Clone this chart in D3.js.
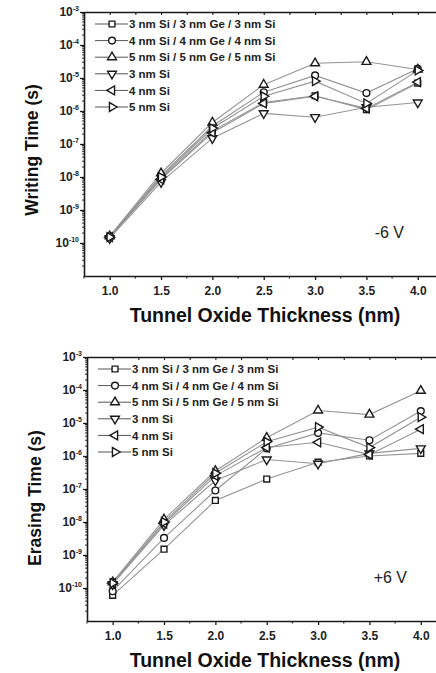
<!DOCTYPE html>
<html><head><meta charset="utf-8">
<script src="https://cdn.jsdelivr.net/npm/d3@7/dist/d3.min.js"></script>
<style>body{margin:0;background:#fff}svg{display:block}</style>
</head><body>
<svg id="c" width="436" height="673"></svg>
<script>
const thickness = [1.0, 1.5, 2.0, 2.5, 3.0, 3.5, 4.0];
const seriesNames = ["3 nm Si / 3 nm Ge / 3 nm Si", "4 nm Si / 4 nm Ge / 4 nm Si", "5 nm Si / 5 nm Ge / 5 nm Si", "3 nm Si", "4 nm Si", "5 nm Si"];
const seriesMarkers = ["square", "circle", "up", "down", "left", "right"];
const xTicks = [1.0, 1.5, 2.0, 2.5, 3.0, 3.5, 4.0];
const yTickExps = [-3, -4, -5, -6, -7, -8, -9, -10];

// Writing time (s) at -6 V
const writeSiGeSi3 = [1.5e-10, 9e-9, 2.5e-7, 1.8e-6, 2.9e-6, 1.1e-6, 7e-6];
const writeSiGeSi4 = [1.6e-10, 1.1e-8, 3.5e-7, 3.7e-6, 1.2e-5, 3.5e-6, 1.9e-5];
const writeSiGeSi5 = [1.6e-10, 1.3e-8, 4.5e-7, 6.3e-6, 2.8e-5, 3.1e-5, 1.8e-5];
const writeSi3 = [1.4e-10, 7e-9, 1.5e-7, 8.5e-7, 6.5e-7, 1.3e-6, 1.8e-6];
const writeSi4 = [1.5e-10, 8.5e-9, 2.2e-7, 1.7e-6, 2.8e-6, 1.2e-6, 7.5e-6];
const writeSi5 = [1.5e-10, 1e-8, 3e-7, 2.8e-6, 8e-6, 1.7e-6, 1.7e-5];

// Erasing time (s) at +6 V
const eraseSiGeSi3 = [6e-11, 1.5e-9, 4.5e-8, 2e-7, 6.5e-7, 1e-6, 1.2e-6];
const eraseSiGeSi4 = [8e-11, 3.3e-9, 9e-8, 1.7e-6, 5e-6, 3e-6, 2.3e-5];
const eraseSiGeSi5 = [1.5e-10, 1.2e-8, 3.5e-7, 3.6e-6, 2.4e-5, 1.8e-5, 9.5e-5];
const eraseSi3 = [1.3e-10, 8e-9, 1.8e-7, 7.8e-7, 5.8e-7, 1.2e-6, 1.7e-6];
const eraseSi4 = [1.4e-10, 9e-9, 2.5e-7, 1.8e-6, 2.6e-6, 1.1e-6, 6.5e-6];
const eraseSi5 = [1.4e-10, 1e-8, 3e-7, 2.7e-6, 7.5e-6, 1.8e-6, 1.5e-5];

const panels = [
  {yTitle: "Writing Time (s)", note: "-6 V", series: [writeSiGeSi3, writeSiGeSi4, writeSiGeSi5, writeSi3, writeSi4, writeSi5],
   left: 84, top: 12, bottom: 276, titleY: 150},
  {yTitle: "Erasing Time (s)", note: "+6 V", series: [eraseSiGeSi3, eraseSiGeSi4, eraseSiGeSi5, eraseSi3, eraseSi4, eraseSi5],
   left: 87, top: 357, bottom: 621, titleY: 498}
];

const svg = d3.select("#c");
const FONT = "'Liberation Sans', Arial, sans-serif";
const LINE = "#949494";
const AX = "#1a1a1a";

function markerPath(kind) {
  if (kind === "square") return d3.symbol(d3.symbolSquare, 34)();
  if (kind === "circle") return d3.symbol(d3.symbolCircle, 36)();
  return d3.symbol(d3.symbolTriangle, 34)();
}
function markerRot(kind) {
  return {up: 0, down: 180, left: -90, right: 90}[kind] || 0;
}

panels.forEach(p => {
  const g = svg.append("g");
  const x = d3.scaleLinear().domain([0.75, 4.25]).range([p.left, p.left + 3.5 * 102.7]);
  const y = d3.scaleLog().domain([1e-11, 1e-3]).range([p.bottom, p.top]);

  // lines
  const line = d3.line().x((d, i) => x(thickness[i])).y(d => y(d));
  p.series.forEach(s => {
    g.append("path").attr("d", line(s)).attr("fill", "none").attr("stroke", LINE).attr("stroke-width", 1.1);
  });
  // markers
  p.series.forEach((s, k) => {
    const kind = seriesMarkers[k];
    g.selectAll(null).data(s).enter().append("path")
      .attr("d", markerPath(kind))
      .attr("transform", (d, i) => `translate(${x(thickness[i])},${y(d)}) rotate(${markerRot(kind)})`)
      .attr("fill", "#fff").attr("stroke", AX).attr("stroke-width", 1.4);
  });

  // bottom axis
  const minorX = d3.range(0.75, 4.26, 0.25).filter(v => Math.abs((v * 2) - Math.round(v * 2)) > 1e-6);
  const xb = g.append("g").attr("transform", `translate(0,${p.bottom})`)
    .call(d3.axisBottom(x).tickValues(xTicks).tickFormat(d3.format(".1f")).tickSizeInner(4).tickSizeOuter(0).tickPadding(6));
  xb.select(".domain").attr("stroke", AX).attr("stroke-width", 1.6);
  xb.selectAll(".tick line").attr("stroke", AX).attr("stroke-width", 1.3);
  xb.selectAll("text").attr("font-family", FONT).attr("font-weight", "bold").attr("font-size", 12).attr("fill", "#222");
  g.selectAll(null).data(minorX).enter().append("line")
    .attr("x1", d => x(d)).attr("x2", d => x(d)).attr("y1", p.bottom).attr("y2", p.bottom + 2.5)
    .attr("stroke", AX).attr("stroke-width", 1.1);

  // top axis
  const xt = g.append("g").attr("transform", `translate(0,${p.top})`)
    .call(d3.axisTop(x).tickValues(xTicks.concat(minorX)).tickFormat("").tickSizeInner(-3).tickSizeOuter(0));
  xt.select(".domain").attr("stroke", AX).attr("stroke-width", 1.6);
  xt.selectAll(".tick line").attr("stroke", AX).attr("stroke-width", 1.1);

  // left axis
  const majorY = yTickExps.map(e => Math.pow(10, e));
  const yl = g.append("g").attr("transform", `translate(${p.left},0)`)
    .call(d3.axisLeft(y).tickValues(majorY).tickFormat("").tickSizeInner(4).tickSizeOuter(0));
  yl.select(".domain").attr("stroke", AX).attr("stroke-width", 1.6);
  yl.selectAll(".tick line").attr("stroke", AX).attr("stroke-width", 1.3);
  const minorY = [];
  for (let e = -11; e < -3; e++) for (let m = 2; m <= 9; m++) minorY.push(m * Math.pow(10, e));
  g.selectAll(null).data(minorY).enter().append("line")
    .attr("x1", p.left - 2).attr("x2", p.left).attr("y1", d => y(d)).attr("y2", d => y(d))
    .attr("stroke", AX).attr("stroke-width", 0.9);
  // y tick labels with superscript
  yTickExps.forEach(e => {
    const t = g.append("text").attr("x", p.left - 5).attr("y", y(Math.pow(10, e)) + 4)
      .attr("text-anchor", "end").attr("font-family", FONT).attr("font-weight", "bold").attr("font-size", 12).attr("fill", "#222");
    t.append("tspan").text("10");
    t.append("tspan").attr("dy", -5).attr("font-size", 7).text(String(e));
  });

  // axis titles
  g.append("text").attr("x", 265).attr("y", p.bottom + 46).attr("text-anchor", "middle")
    .attr("font-family", FONT).attr("font-weight", "bold").attr("font-size", 19.5).attr("fill", "#111")
    .text("Tunnel Oxide Thickness (nm)");
  g.append("text").attr("transform", `translate(${p.left - 46},${p.titleY}) rotate(-90)`).attr("text-anchor", "middle")
    .attr("font-family", FONT).attr("font-weight", "bold").attr("font-size", 17.5).attr("fill", "#111")
    .text(p.yTitle);

  // voltage note
  g.append("text").attr("x", p.left + 320).attr("y", p.top + 226).attr("text-anchor", "end")
    .attr("font-family", FONT).attr("font-size", 16).attr("fill", "#222").text(p.note);

  // legend
  const lx = p.left + 11, ly = p.top + 12;
  seriesNames.forEach((name, k) => {
    const yy = ly + k * 16.6;
    g.append("line").attr("x1", lx).attr("x2", lx + 33).attr("y1", yy).attr("y2", yy).attr("stroke", "#555").attr("stroke-width", 1);
    g.append("path").attr("d", markerPath(seriesMarkers[k]))
      .attr("transform", `translate(${lx + 17},${yy}) rotate(${markerRot(seriesMarkers[k])})`)
      .attr("fill", "#fff").attr("stroke", AX).attr("stroke-width", 1.4);
    g.append("text").attr("x", lx + 34).attr("y", yy + 4.2).attr("font-family", FONT).attr("font-weight", "bold")
      .attr("font-size", 11.5).attr("fill", "#222").text(name);
  });
});
</script>
</body></html>
